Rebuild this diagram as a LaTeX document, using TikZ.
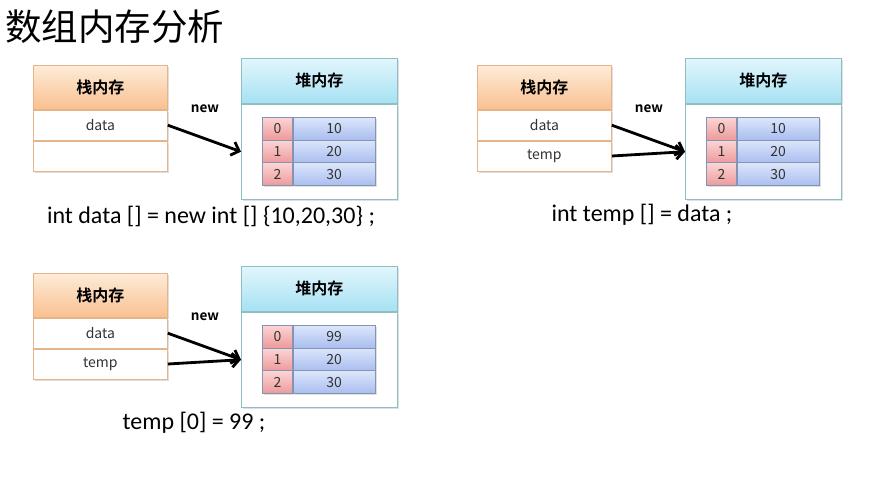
\documentclass[tikz,border=0pt]{standalone}
\usepackage{fontspec}
\setmainfont{Carlito}
\newfontfamily\cjk{Noto Sans CJK SC}[BoldFont={Noto Sans CJK SC Bold}]
\usepackage{xcolor}
\usepackage{tikz}
\usetikzlibrary{positioning,arrows.meta,shadows}
\definecolor{stacktop}{HTML}{FDEBD9}
\definecolor{stackbot}{HTML}{FAC08F}
\definecolor{stackline}{HTML}{E6B48A}
\definecolor{heaptop}{HTML}{E2F6FC}
\definecolor{heapbot}{HTML}{A6E1F3}
\definecolor{heapline}{HTML}{8EBFC6}
\definecolor{idxtop}{HTML}{FBD5D5}
\definecolor{idxbot}{HTML}{EE9A9A}
\definecolor{valtop}{HTML}{DCE6FB}
\definecolor{valbot}{HTML}{A9BDEF}
\definecolor{cellline}{HTML}{8593B4}
\definecolor{ink}{HTML}{333333}
\tikzset{
  box/.style={inner sep=0pt, line width=0.8pt,
    drop shadow={opacity=0.25, shadow xshift=1.5pt, shadow yshift=-1.5pt}},
  stackhead/.style={box, draw=stackline, top color=stacktop, bottom color=stackbot,
    minimum width=134pt, minimum height=44pt, text=black,
    font=\cjk\bfseries\fontsize{16pt}{18pt}\selectfont},
  stackrow/.style={box, draw=stackline, fill=white, minimum width=134pt,
    minimum height=30pt, text=ink, font=\cjk\fontsize{14pt}{16pt}\selectfont},
  heaphead/.style={box, draw=heapline, top color=heaptop, bottom color=heapbot,
    minimum width=156pt, minimum height=45pt, text=black,
    font=\cjk\bfseries\fontsize{16pt}{18pt}\selectfont},
  heapbody/.style={box, draw=heapline, fill=white, minimum width=156pt, minimum height=95pt},
  idxcell/.style={box, draw=cellline, top color=idxtop, bottom color=idxbot,
    minimum width=30pt, minimum height=22.7pt, text=ink,
    font=\cjk\fontsize{14pt}{16pt}\selectfont},
  valcell/.style={idxcell, top color=valtop, bottom color=valbot, minimum width=82pt},
  kw/.style={font=\cjk\bfseries\fontsize{13.5pt}{15pt}\selectfont, text=black},
  code/.style={font=\fontsize{24pt}{26pt}\selectfont, text=black},
  title/.style={font=\cjk\fontsize{36.5pt}{40pt}\selectfont, text=black, inner sep=0pt},
  ptr/.style={draw=black, line width=2.8pt, -{Straight Barb[length=7pt,width=14pt]}},
}
\begin{document}
\begin{tikzpicture}[x=1pt,y=-1pt]
  \useasboundingbox[fill=white] (0,0) rectangle (890,480);

  \node[title, anchor=west] (title) at (5,27) {数组内存分析};

  % new array
  \begin{scope}
    \node[stackhead, anchor=north west] (ash) at (33,65) {栈内存};
    \node[stackrow, below=0pt of ash] (ad) {data};
    \node[stackrow, below=0pt of ad] (ae) {};
    \node[heaphead, anchor=north west] (ahh) at (241,58) {堆内存};
    \node[heapbody, below=0pt of ahh] (ahb) {};
    \foreach \i/\v in {0/10,1/20,2/30}{
      \node[idxcell, anchor=north west] (ai\i) at (262,{117+22.7*\i}) {\i};
      \node[valcell, right=0pt of ai\i] (av\i) {\v};
    }
    \node[kw] (anew) at (205,109) {new};
    \draw[ptr] (ad.east) -- (ahb.west);
    \node[code] (acode) at (211,216) {int data [] = new int [] \{10,20,30\} ;};
  \end{scope}

  % second reference
  \begin{scope}[shift={(444,0)}]
    \node[stackhead, anchor=north west] (bsh) at (33,65) {栈内存};
    \node[stackrow, below=0pt of bsh] (bd) {data};
    \node[stackrow, below=0pt of bd] (bt) {temp};
    \node[heaphead, anchor=north west] (bhh) at (241,58) {堆内存};
    \node[heapbody, below=0pt of bhh] (bhb) {};
    \foreach \i/\v in {0/10,1/20,2/30}{
      \node[idxcell, anchor=north west] (bi\i) at (262,{117+22.7*\i}) {\i};
      \node[valcell, right=0pt of bi\i] (bv\i) {\v};
    }
    \node[kw] (bnew) at (205,109) {new};
    \draw[ptr] (bd.east) -- (bhb.west);
    \draw[ptr] (bt.east) -- (bhb.west);
    \node[code] (bcode) at (198,215) {int temp [] = data ;};
  \end{scope}

  % change through temp
  \begin{scope}[shift={(0,208)}]
    \node[stackhead, anchor=north west] (csh) at (33,65) {栈内存};
    \node[stackrow, below=0pt of csh] (cd) {data};
    \node[stackrow, below=0pt of cd] (ct) {temp};
    \node[heaphead, anchor=north west] (chh) at (241,58) {堆内存};
    \node[heapbody, below=0pt of chh] (chb) {};
    \foreach \i/\v in {0/99,1/20,2/30}{
      \node[idxcell, anchor=north west] (ci\i) at (262,{117+22.7*\i}) {\i};
      \node[valcell, right=0pt of ci\i] (cv\i) {\v};
    }
    \node[kw] (cnew) at (205,109) {new};
    \draw[ptr] (cd.east) -- (chb.west);
    \draw[ptr] (ct.east) -- (chb.west);
    \node[code] (ccode) at (194,215) {temp [0] = 99 ;};
  \end{scope}
\end{tikzpicture}
\end{document}
